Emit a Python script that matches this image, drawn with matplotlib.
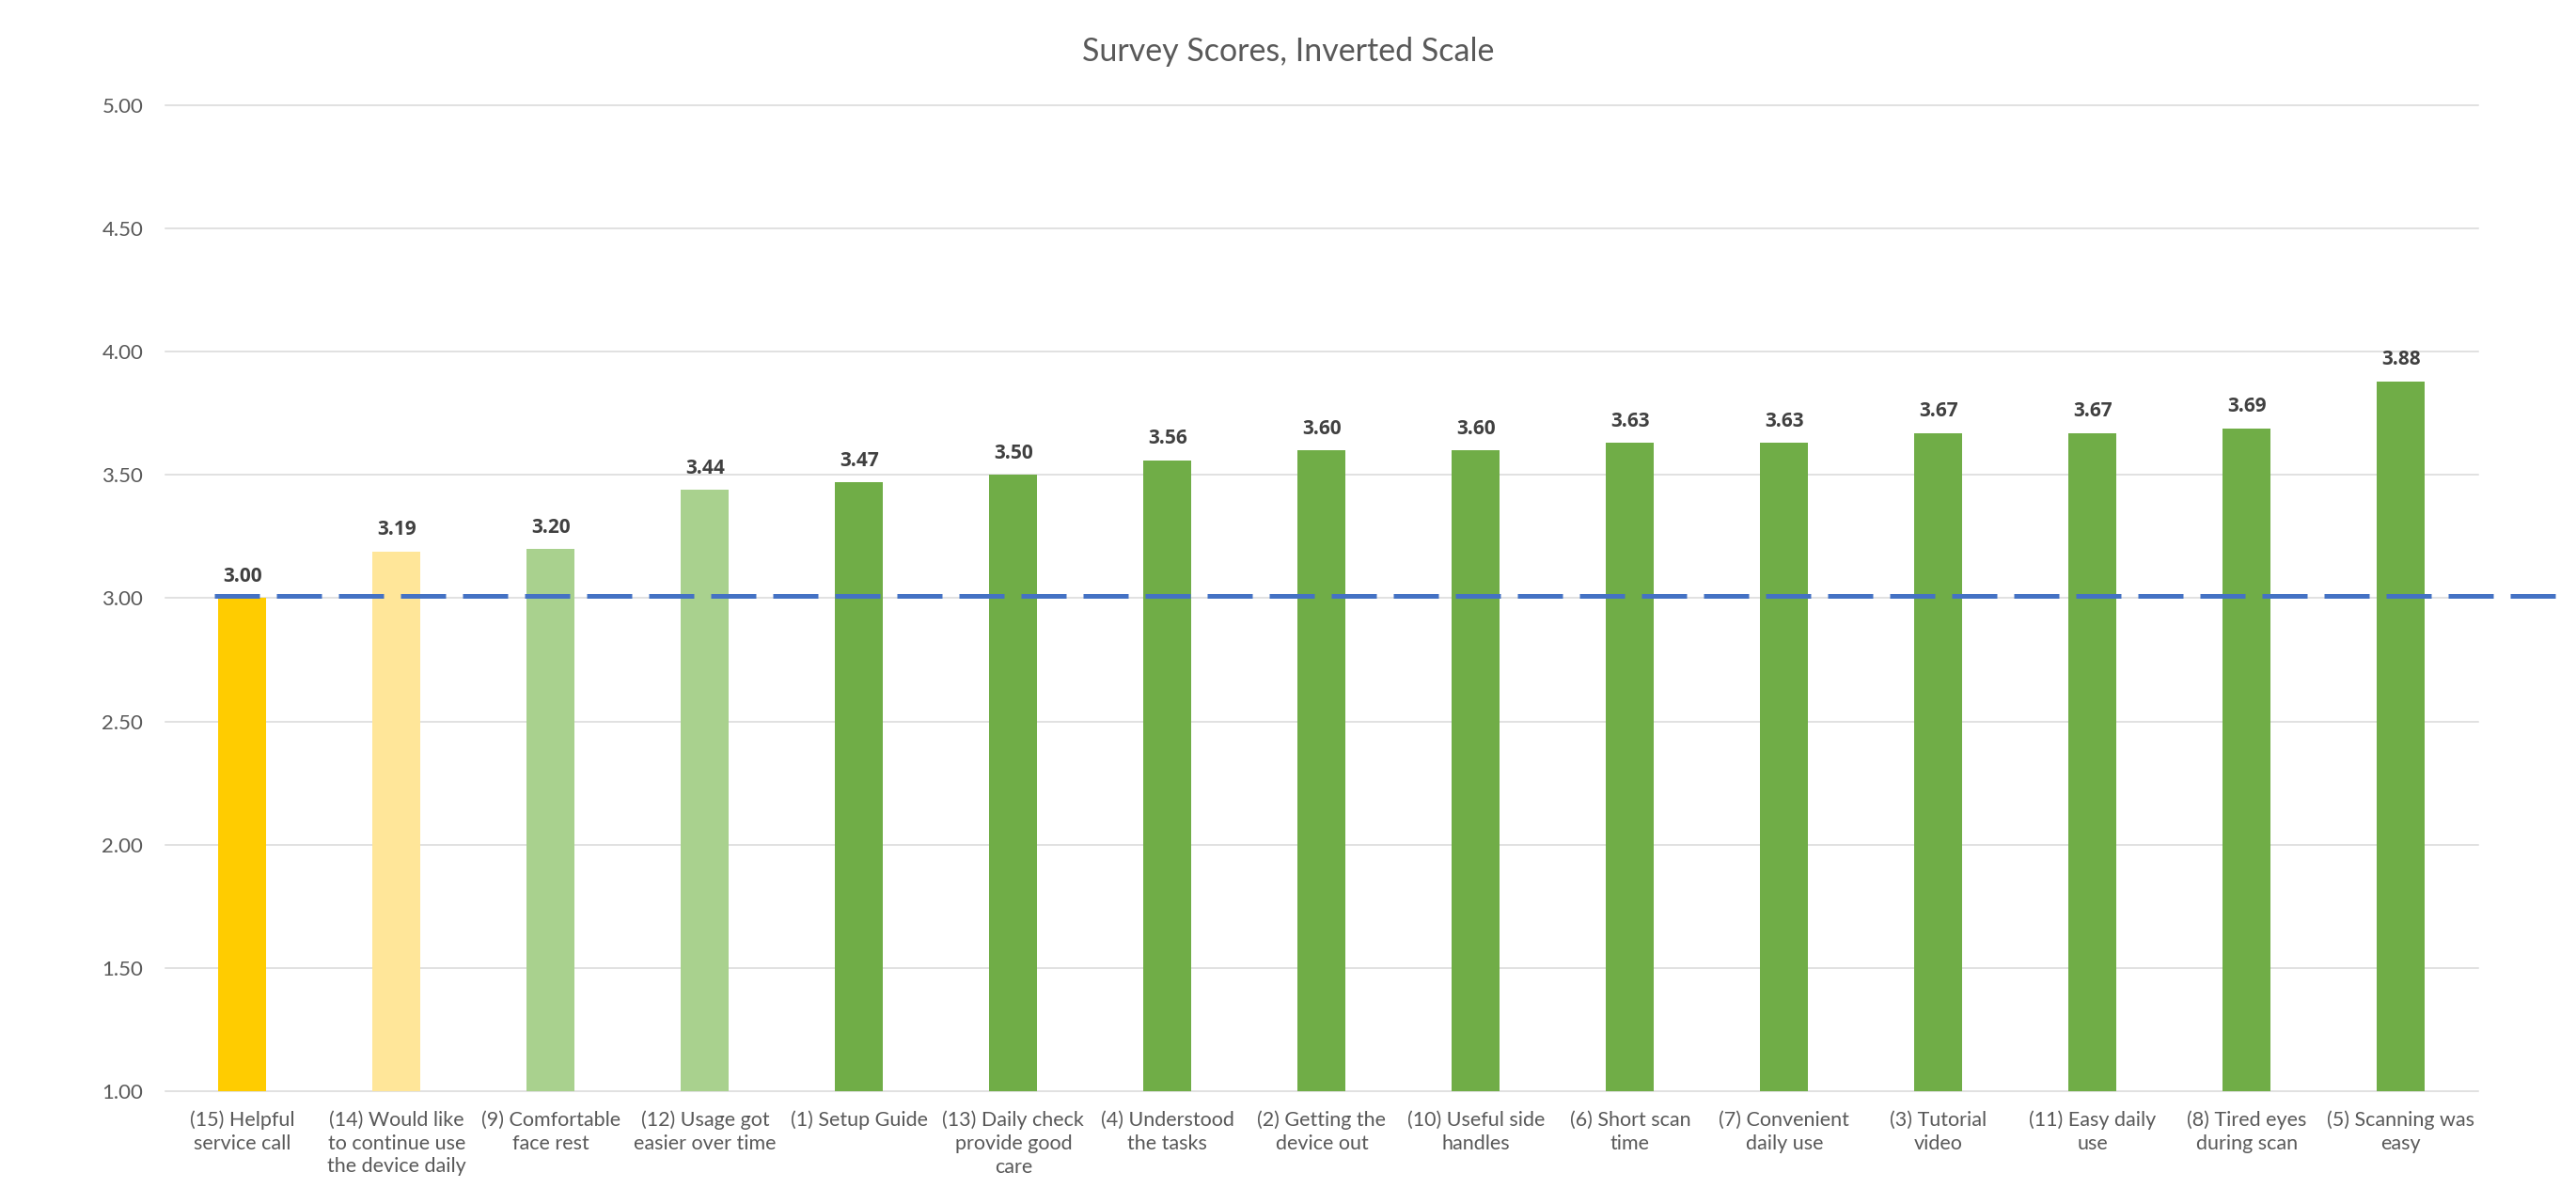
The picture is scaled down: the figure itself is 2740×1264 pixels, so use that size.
import matplotlib
matplotlib.use("Agg")
import matplotlib.pyplot as plt
from matplotlib.ticker import MultipleLocator, FormatStrFormatter

# chart data
labels = [
    "(15) Helpful\nservice call",
    "(14) Would like\nto continue use\nthe device daily",
    "(9) Comfortable\nface rest",
    "(12) Usage got\neasier over time",
    "(1) Setup Guide",
    "(13) Daily check\nprovide good\ncare",
    "(4) Understood\nthe tasks",
    "(2) Getting the\ndevice out",
    "(10) Useful side\nhandles",
    "(6) Short scan\ntime",
    "(7) Convenient\ndaily use",
    "(3) Tutorial\nvideo",
    "(11) Easy daily\nuse",
    "(8) Tired eyes\nduring scan",
    "(5) Scanning was\neasy",
]
scores = [3.00, 3.19, 3.20, 3.44, 3.47, 3.50, 3.56, 3.60, 3.60, 3.63, 3.63, 3.67, 3.67, 3.69, 3.88]
barColors = ["#FFCC00", "#FFE699", "#A9D18E", "#A9D18E"] + ["#70AD47"] * 11
neutral = 3.01   # dashed reference line

plt.rcParams['font.family'] = ['Lato', 'DejaVu Sans']
textGray = "#595959"

fig = plt.figure(figsize=(27.4, 12.64), dpi=100)
ax = fig.add_axes([0.0642, 0.0815, 0.962 - 0.0642, 0.9114 - 0.0815])

xs = list(range(len(scores)))
bars = ax.bar(xs, [s - 1 for s in scores], bottom=1, width=0.31, color=barColors, zorder=2)

# Lato here has no real bold, so the value labels use Open Sans Bold
for x, s in zip(xs, scores):
    ax.annotate("%.2f" % s, (x, s), xytext=(0, 9), textcoords="offset points",
                ha="center", va="bottom", fontsize=15, fontweight="bold",
                family=['Open Sans', 'DejaVu Sans'], color="#404040")

# dashed line runs past the plot area to the right
ax.plot([-0.18, 15.0], [neutral, neutral], color="#4472C4", linewidth=3.6,
        dashes=(9.6, 3.6), clip_on=False, zorder=3)

ax.set_xlim(-0.5, len(scores) - 0.5)
ax.set_ylim(1, 5)
ax.yaxis.set_major_locator(MultipleLocator(0.5))
ax.yaxis.set_major_formatter(FormatStrFormatter("%.2f"))
ax.set_xticks(xs)
ax.set_xticklabels(labels, fontsize=15.5, color=textGray, linespacing=1.3)
ax.tick_params(axis="x", length=0, pad=15)
ax.tick_params(axis="y", length=0, pad=17, labelsize=16, labelcolor=textGray)

for sp in ax.spines.values():
    sp.set_visible(False)
ax.yaxis.grid(True, color="#D9D9D9", linewidth=1.1, zorder=0)
ax.set_axisbelow(True)
for gl in ax.get_ygridlines():
    gl.set_clip_on(False)

fig.text(0.5, 0.9565, "Survey Scores, Inverted Scale", ha="center", va="center",
         fontsize=24.5, color=textGray)

fig.savefig("out.png", dpi=100)
plt.close(fig)
